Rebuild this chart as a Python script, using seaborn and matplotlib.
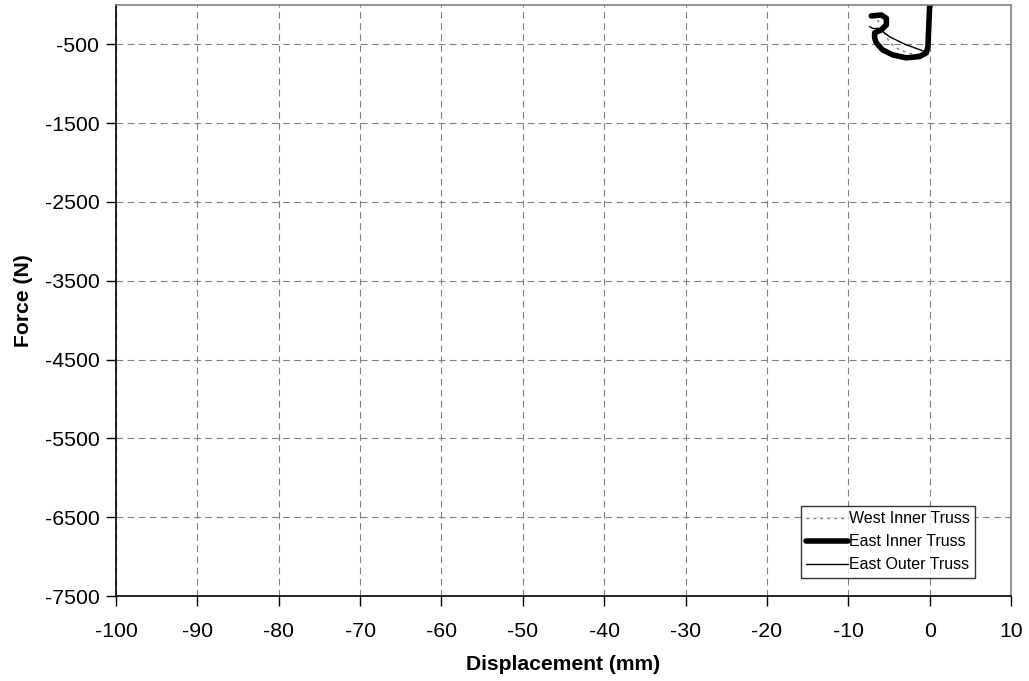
import matplotlib
matplotlib.use("Agg")
import matplotlib.pyplot as plt
import numpy as np
import pandas as pd
import seaborn as sns

# values (displacement mm, force N)
west_inner_x = [-6.4, -6.0, -5.8, -5.3, -4.9, -3.7, -2.2, -0.6, -0.2, -0.1, 0.0]
west_inner_y = [-190, -250, -316, -400, -481, -570, -620, -633, -560, -443, 0]

east_inner_x = [-7.17, -5.94, -5.32, -5.32, -5.94, -6.76, -6.76, -6.55, -5.78,
                -4.55, -2.86, -1.23, -0.41, -0.21, 0.0, 0.1]
east_inner_y = [-139, -127, -168, -253, -316, -354, -418, -481, -570,
                -633, -671, -654, -608, -528, -22, 0]

east_outer_x = [-7.4, -6.9, -6.3, -4.9, -3.0, -0.6, -0.1, 0.0]
east_outer_y = [-275, -300, -295, -405, -500, -591, -560, 0]

sns.set_style("white")
plt.rcParams['font.family'] = ['Liberation Sans', 'DejaVu Sans']
plt.rcParams['axes.unicode_minus'] = False
plt.rcParams['text.color'] = 'black'
plt.rcParams['axes.labelcolor'] = 'black'
plt.rcParams['xtick.color'] = 'black'
plt.rcParams['ytick.color'] = 'black'

fig, ax = plt.subplots(figsize=(10.29, 6.81), dpi=100)
fig.subplots_adjust(left=0.1127, right=0.9825, top=0.9927, bottom=0.1248)

frames = [
    ("West Inner Truss", west_inner_x, west_inner_y),
    ("East Inner Truss", east_inner_x, east_inner_y),
    ("East Outer Truss", east_outer_x, east_outer_y),
]
styles = {
    "West Inner Truss": dict(color="#808080", lw=1.0, ls=(0, (2, 3))),
    "East Inner Truss": dict(color="black", lw=4.0, ls="-"),
    "East Outer Truss": dict(color="black", lw=1.0, ls="-"),
}
for name, xs, ys in frames:
    df = pd.DataFrame({"x": xs, "y": ys})
    sns.lineplot(data=df, x="x", y="y", sort=False, estimator=None, ax=ax,
                 label=name, color=styles[name]["color"],
                 linewidth=styles[name]["lw"], linestyle=styles[name]["ls"])

ax.set_xlim(-100, 10)
ax.set_ylim(-7500, 0)
ax.set_xticks(np.arange(-100, 11, 10))
ax.set_yticks(np.arange(-7500, 0, 1000))
ax.grid(True, color="#808080", linestyle=(0, (6, 4)), linewidth=0.8)
ax.tick_params(axis="both", labelsize=15.3, direction="out", length=7,
               width=1, color="black", left=True, bottom=True,
               labelcolor="black")
ax.tick_params(axis="x", pad=12)
ax.tick_params(axis="y", pad=5)

for side in ["left", "bottom"]:
    ax.spines[side].set_color("black")
    ax.spines[side].set_linewidth(1.2)
for side in ["top", "right"]:
    ax.spines[side].set_color("#808080")
    ax.spines[side].set_linewidth(1.2)

ax.set_xlabel("Displacement (mm)", fontsize=15.2, fontweight="bold", labelpad=10,
              color="black")
ax.set_ylabel("Force (N)", fontsize=15.2, fontweight="bold", labelpad=8,
              color="black")

leg = ax.legend(loc="lower right", bbox_to_anchor=(0.9598, 0.0305), fontsize=11.5,
                frameon=True, fancybox=False, handlelength=2.6,
                handletextpad=0.05, borderpad=0.35, labelspacing=0.5,
                borderaxespad=0)
leg.get_frame().set_edgecolor("black")
leg.get_frame().set_linewidth(1.0)

fig.savefig("out.png", dpi=100)
